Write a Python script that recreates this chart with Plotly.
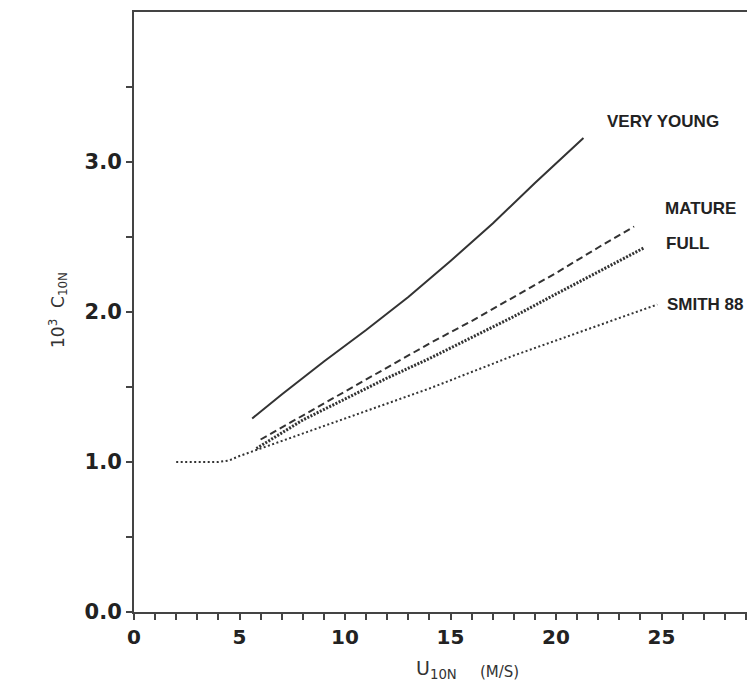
import plotly.graph_objects as go

# ---- data ----
very_young_u = [5.6, 7, 9, 11, 13, 15, 17, 19, 21.3]
very_young_c = [1.29, 1.45, 1.67, 1.88, 2.10, 2.34, 2.59, 2.86, 3.16]

mature_u = [6.0, 8, 10, 12, 14, 16, 18, 20, 22, 23.7]
mature_c = [1.15, 1.31, 1.47, 1.63, 1.79, 1.94, 2.10, 2.26, 2.43, 2.57]

full_u = [5.8, 6.5, 8, 10, 12, 14, 16, 18, 20, 22, 24.2]
full_c = [1.09, 1.15, 1.28, 1.42, 1.56, 1.69, 1.83, 1.97, 2.12, 2.27, 2.43]

smith_u = [2, 3, 4, 4.5, 5, 6, 7, 8, 10, 12, 14, 16, 18, 20, 22, 24, 24.8]
smith_c = [1.0, 1.0, 1.0, 1.01, 1.04, 1.09, 1.14, 1.19, 1.29, 1.39, 1.49,
           1.60, 1.71, 1.81, 1.91, 2.01, 2.05]

x_tick_vals = list(range(0, 30))
x_tick_text = [str(v) if v % 5 == 0 and v <= 25 else "" for v in x_tick_vals]
y_tick_vals = [0.0, 0.5, 1.0, 1.5, 2.0, 2.5, 3.0, 3.5]
y_tick_text = ["0.0", "", "1.0", "", "2.0", "", "3.0", ""]

labels = ["VERY YOUNG", "MATURE", "FULL", "SMITH 88"]
label_u = [22.3, 25.07, 25.12, 25.17]
label_c = [3.27, 2.69, 2.46, 2.05]

INK = "#333333"

fig = go.Figure()
fig.add_trace(go.Scatter(x=very_young_u, y=very_young_c, mode="lines",
                         line=dict(color=INK, width=2),
                         name="VERY YOUNG"))
fig.add_trace(go.Scatter(x=mature_u, y=mature_c, mode="lines",
                         line=dict(color=INK, width=2, dash="7px,4px"),
                         name="MATURE"))
fig.add_trace(go.Scatter(x=full_u, y=full_c, mode="lines",
                         line=dict(color=INK, width=3, dash="2px,1.5px"),
                         name="FULL"))
fig.add_trace(go.Scatter(x=smith_u, y=smith_c, mode="lines",
                         line=dict(color=INK, width=2, dash="2px,2.5px"),
                         name="SMITH 88"))

for t, u, c in zip(labels, label_u, label_c):
    fig.add_annotation(x=u, y=c, xref="x", yref="y", text="<b>" + t + "</b>", showarrow=False,
                       xanchor="left", yanchor="middle",
                       font=dict(family="Liberation Sans", size=17, color="#222"))

# axis titles
fig.add_annotation(x=-0.148, y=0.503, xref="paper", yref="paper",
                   text="10<sup>3</sup>  C<sub>10N</sub>", textangle=-90, showarrow=False,
                   font=dict(family="DejaVu Sans", size=17, color="#333"))
fig.add_annotation(x=0.457, y=-0.12, xref="paper", yref="paper", xanchor="left",
                   text="U<sub>10N</sub>", showarrow=False,
                   font=dict(family="DejaVu Sans", size=19, color="#333"))
fig.add_annotation(x=0.561, y=-0.118, xref="paper", yref="paper", xanchor="left",
                   text="(M/S)", showarrow=False,
                   font=dict(family="DejaVu Sans", size=15, color="#333"))

fig.update_layout(
    width=747, height=698,
    margin=dict(l=134, r=0, t=12, b=86),
    paper_bgcolor="white", plot_bgcolor="white",
    showlegend=False,
    xaxis=dict(range=[0, 29.05], tickmode="array", tickvals=x_tick_vals, ticktext=x_tick_text,
               ticks="outside", ticklen=6, tickwidth=1.5, tickcolor="#444",
               showline=True, linecolor="#444", linewidth=2, mirror=True,
               showgrid=False, zeroline=False,
               tickfont=dict(family="DejaVu Sans", size=20, color="#222")),
    yaxis=dict(range=[0, 4.0], tickmode="array", tickvals=y_tick_vals, ticktext=y_tick_text,
               ticks="outside", ticklen=6, tickwidth=1.5, tickcolor="#444",
               showline=True, linecolor="#444", linewidth=2,
               showgrid=False, zeroline=False,
               tickfont=dict(family="DejaVu Sans", size=21, color="#222")),
)
fig.update_xaxes(tickfont_weight="bold")
fig.update_yaxes(tickfont_weight="bold")

fig.write_html("out.html")
